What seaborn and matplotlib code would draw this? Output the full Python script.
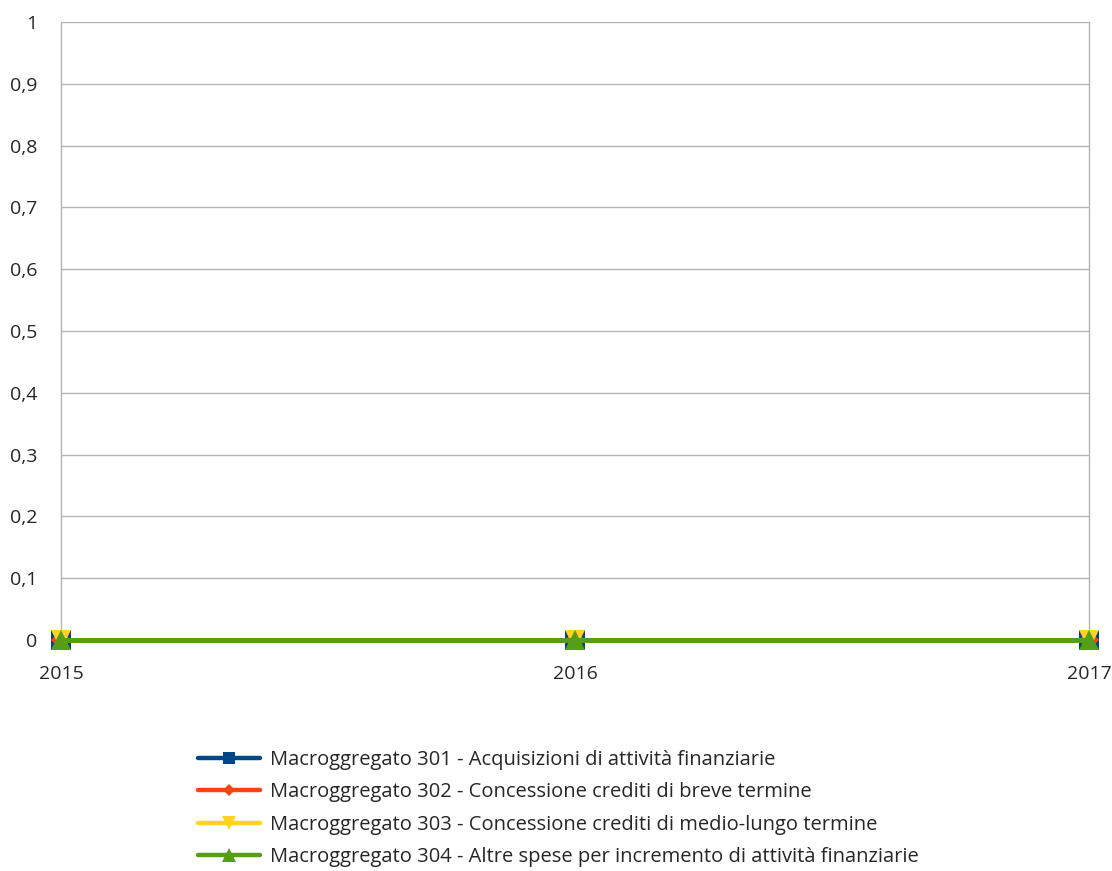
import pandas as pd
import matplotlib.pyplot as plt
import seaborn as sns
from matplotlib.ticker import FuncFormatter, MultipleLocator

YEARS = [2015, 2016, 2017]
SERIES = [
    "Macroggregato 301 - Acquisizioni di attività finanziarie",
    "Macroggregato 302 - Concessione crediti di breve termine",
    "Macroggregato 303 - Concessione crediti di medio-lungo termine",
    "Macroggregato 304 - Altre spese per incremento di attività finanziarie",
]
VALUES = [
    [0, 0, 0],
    [0, 0, 0],
    [0, 0, 0],
    [0, 0, 0],
]
COLORS = ["#004586", "#ff420e", "#ffd320", "#579d1c"]
MARKERS = ["s", "D", "v", "^"]
MSIZES = [14, 10, 15, 15]

sns.set_style("white")
plt.rcParams["font.family"] = ["Open Sans", "DejaVu Sans"]

fig = plt.figure(figsize=(11.12, 8.71), dpi=100)
ax = fig.add_axes([0.0549, 0.2652, 0.9244, 0.7095])

for name, vals, col, mk, ms in zip(SERIES, VALUES, COLORS, MARKERS, MSIZES):
    df = pd.DataFrame({"anno": YEARS, "valore": vals})
    sns.lineplot(data=df, x="anno", y="valore", ax=ax, color=col, marker=mk,
                 markersize=ms, markeredgewidth=0, linewidth=3.6, label=name,
                 clip_on=False, zorder=3)


def fmt_y(v, p):
    s = f"{v:.1f}".replace(".", ",")
    return s[:-2] if s.endswith(",0") else s


ax.set_xlim(2015, 2017)
ax.set_ylim(0, 1)
ax.yaxis.set_major_locator(MultipleLocator(0.1))
ax.xaxis.set_major_locator(MultipleLocator(1))
ax.yaxis.set_major_formatter(FuncFormatter(fmt_y))
ax.xaxis.set_major_formatter(FuncFormatter(lambda v, p: str(int(v))))
ax.grid(True, axis="y", color="#b3b3b3", linewidth=1)
ax.set_axisbelow(True)
for k, s in ax.spines.items():
    s.set_visible(k in ("left", "right"))
    s.set_color("#b3b3b3")
    s.set_linewidth(1)
ax.tick_params(axis="both", length=11, color="#b3b3b3", width=1, labelsize=14, pad=6)
ax.tick_params(axis="x", pad=7)
ax.set_xlabel("")
ax.set_ylabel("")

leg = ax.legend(loc="upper center", bbox_to_anchor=(0.484, -0.148), frameon=False,
                fontsize=14.5, handlelength=3.1, handletextpad=0.5, labelspacing=0.62,
                markerscale=0.64, alignment="left")
for h in leg.legend_handles:
    h.set_linewidth(3.2)
plt.savefig("out.png", dpi=100)
